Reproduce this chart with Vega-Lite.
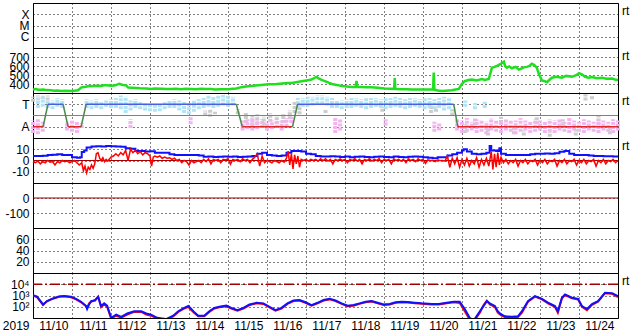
{
"$schema":"https://vega.github.io/schema/vega-lite/v6.json",
"background":"white",
"padding":{"left":0,"top":2,"right":0,"bottom":0},
"spacing":0,
"bounds":"flush",
"config":{
 "view":{"stroke":"black","strokeWidth":1},
 "font":"Liberation Sans",
 "axis":{"labelFont":"Liberation Sans","labelFontSize":12,"labelColor":"black","domain":false,"ticks":false,"tickSize":0,"grid":true,"gridColor":"black","gridDash":[1,3],"gridOpacity":1,"gridWidth":1,"labelBound":false,"labelFlush":false},
 "axisY":{"labelPadding":4,"minExtent":32,"maxExtent":32},
 "text":{"font":"Liberation Sans"}
},
"datasets":{
 "sw":[{"h":0,"v":340},{"h":1.9,"v":345},{"h":3,"v":336},{"h":4.9,"v":335},{"h":6.5,"v":338},{"h":8,"v":332},{"h":11.1,"v":330},{"h":12.9,"v":325},{"h":15,"v":328},{"h":17.3,"v":322},{"h":20,"v":324},{"h":23.4,"v":323},{"h":25.5,"v":326},{"h":27.7,"v":330},{"h":29.6,"v":360},{"h":31,"v":366},{"h":32.7,"v":370},{"h":33.9,"v":378},{"h":36,"v":375},{"h":38.8,"v":380},{"h":41.9,"v":378},{"h":43.5,"v":386},{"h":45,"v":385},{"h":48.1,"v":380},{"h":50,"v":384},{"h":51.2,"v":388},{"h":53,"v":403},{"h":54.3,"v":395},{"h":55.5,"v":390},{"h":57.3,"v":385},{"h":58.6,"v":360},{"h":61,"v":358},{"h":63.5,"v":355},{"h":66,"v":352},{"h":69.7,"v":350},{"h":72.7,"v":345},{"h":75,"v":350},{"h":78.9,"v":348},{"h":82,"v":344},{"h":85.1,"v":345},{"h":88,"v":347},{"h":91.2,"v":342},{"h":94,"v":346},{"h":97.4,"v":345},{"h":100,"v":341},{"h":103.6,"v":348},{"h":106,"v":344},{"h":109.7,"v":345},{"h":112,"v":340},{"h":115.9,"v":342},{"h":120.2,"v":341},{"h":123,"v":346},{"h":125.1,"v":350},{"h":128.2,"v":365},{"h":131,"v":372},{"h":134.4,"v":378},{"h":137,"v":384},{"h":140.5,"v":390},{"h":144.9,"v":396},{"h":147,"v":398},{"h":149.8,"v":400},{"h":152,"v":404},{"h":154.7,"v":407},{"h":157,"v":410},{"h":159.1,"v":412},{"h":162,"v":420},{"h":165.2,"v":430},{"h":168.3,"v":440},{"h":171.4,"v":450},{"h":173,"v":465},{"h":174.5,"v":478},{"h":176,"v":460},{"h":177.6,"v":445},{"h":180,"v":430},{"h":181.9,"v":415},{"h":184,"v":400},{"h":186.9,"v":390},{"h":189.9,"v":378},{"h":193,"v":372},{"h":196.1,"v":367},{"h":198.5,"v":366},{"h":199.1,"v":433},{"h":199.7,"v":366},{"h":202.2,"v":368},{"h":205,"v":364},{"h":208.4,"v":365},{"h":212,"v":358},{"h":216.4,"v":350},{"h":220,"v":347},{"h":222.2,"v":345},{"h":222.6,"v":466},{"h":223,"v":344},{"h":226.9,"v":342},{"h":230,"v":341},{"h":233,"v":340},{"h":236,"v":339},{"h":239.2,"v":340},{"h":243,"v":338},{"h":246.2,"v":338},{"h":246.6,"v":526},{"h":247,"v":336},{"h":249,"v":328},{"h":251.5,"v":322},{"h":254,"v":326},{"h":257.7,"v":330},{"h":260,"v":338},{"h":262,"v":345},{"h":263.9,"v":400},{"h":265.7,"v":433},{"h":268,"v":445},{"h":270.1,"v":450},{"h":273,"v":440},{"h":276.2,"v":455},{"h":278,"v":445},{"h":280.5,"v":455},{"h":282.4,"v":580},{"h":284,"v":590},{"h":285.4,"v":600},{"h":287.5,"v":620},{"h":289.8,"v":648},{"h":290.5,"v":600},{"h":291.6,"v":580},{"h":293,"v":595},{"h":294.7,"v":575},{"h":297,"v":590},{"h":299,"v":560},{"h":300.9,"v":575},{"h":302,"v":585},{"h":303.9,"v":590},{"h":305.5,"v":600},{"h":307,"v":625},{"h":308.5,"v":610},{"h":310.1,"v":580},{"h":311.3,"v":510},{"h":313.2,"v":440},{"h":315,"v":430},{"h":316.3,"v":420},{"h":318,"v":450},{"h":319.3,"v":470},{"h":322,"v":480},{"h":325.5,"v":470},{"h":328,"v":490},{"h":331.7,"v":480},{"h":334,"v":495},{"h":336,"v":520},{"h":338,"v":505},{"h":339.7,"v":480},{"h":342,"v":470},{"h":344,"v":478},{"h":347,"v":465},{"h":350.2,"v":470},{"h":353,"v":458},{"h":356.4,"v":462},{"h":358,"v":450},{"h":360,"v":445}],
 "phi":[{"h":0,"lo":290,"hi":330,"c":"gray"},{"h":3,"lo":300,"hi":340,"c":"gray"},{"h":6,"lo":310,"hi":345,"c":"gray"},{"h":9,"lo":300,"hi":340,"c":"gray"},{"h":106,"lo":180,"hi":220,"c":"gray"},{"h":109,"lo":170,"hi":230,"c":"gray"},{"h":112,"lo":190,"hi":210,"c":"gray"},{"h":126,"lo":190,"hi":230,"c":"gray"},{"h":131,"lo":120,"hi":200,"c":"gray"},{"h":135,"lo":100,"hi":180,"c":"gray"},{"h":138,"lo":110,"hi":190,"c":"gray"},{"h":142,"lo":100,"hi":170,"c":"gray"},{"h":146,"lo":130,"hi":200,"c":"gray"},{"h":150,"lo":110,"hi":180,"c":"gray"},{"h":154,"lo":120,"hi":190,"c":"gray"},{"h":158,"lo":150,"hi":220,"c":"gray"},{"h":161,"lo":200,"hi":290,"c":"gray"},{"h":164,"lo":190,"hi":260,"c":"gray"},{"h":180,"lo":200,"hi":230,"c":"gray"},{"h":215,"lo":210,"hi":250,"c":"gray"},{"h":245,"lo":200,"hi":260,"c":"gray"},{"h":248,"lo":210,"hi":250,"c":"gray"},{"h":258,"lo":180,"hi":230,"c":"gray"},{"h":266,"lo":40,"hi":110,"c":"gray"},{"h":272,"lo":100,"hi":160,"c":"gray"},{"h":280,"lo":20,"hi":80,"c":"gray"},{"h":288,"lo":120,"hi":170,"c":"gray"},{"h":296,"lo":30,"hi":90,"c":"gray"},{"h":302,"lo":20,"hi":60,"c":"gray"},{"h":310,"lo":110,"hi":170,"c":"gray"},{"h":318,"lo":10,"hi":50,"c":"gray"},{"h":326,"lo":100,"hi":150,"c":"gray"},{"h":334,"lo":20,"hi":70,"c":"gray"},{"h":340,"lo":300,"hi":350,"c":"gray"},{"h":344,"lo":310,"hi":340,"c":"gray"},{"h":348,"lo":100,"hi":180,"c":"gray"},{"h":355,"lo":30,"hi":90,"c":"gray"},
 {"h":0,"lo":40,"hi":140,"c":"pink"},{"h":3,"lo":30,"hi":150,"c":"pink"},{"h":6,"lo":50,"hi":130,"c":"pink"},{"h":21,"lo":60,"hi":130,"c":"pink"},{"h":24,"lo":50,"hi":140,"c":"pink"},{"h":27,"lo":40,"hi":130,"c":"pink"},{"h":30,"lo":80,"hi":120,"c":"pink"},{"h":60,"lo":80,"hi":150,"c":"pink"},{"h":97,"lo":110,"hi":170,"c":"pink"},{"h":129,"lo":60,"hi":140,"c":"pink"},{"h":132,"lo":70,"hi":150,"c":"pink"},{"h":135,"lo":60,"hi":160,"c":"pink"},{"h":138,"lo":70,"hi":140,"c":"pink"},{"h":141,"lo":80,"hi":150,"c":"pink"},{"h":144,"lo":60,"hi":130,"c":"pink"},{"h":147,"lo":70,"hi":140,"c":"pink"},{"h":150,"lo":80,"hi":150,"c":"pink"},{"h":153,"lo":60,"hi":140,"c":"pink"},{"h":156,"lo":90,"hi":160,"c":"pink"},{"h":159,"lo":120,"hi":170,"c":"pink"},{"h":186,"lo":40,"hi":160,"c":"pink"},{"h":189,"lo":60,"hi":150,"c":"pink"},{"h":217,"lo":100,"hi":150,"c":"pink"},{"h":247,"lo":50,"hi":130,"c":"pink"},{"h":250,"lo":60,"hi":120,"c":"pink"},{"h":261,"lo":60,"hi":150,"c":"pink"},{"h":264,"lo":40,"hi":140,"c":"pink"},{"h":267,"lo":50,"hi":160,"c":"pink"},{"h":270,"lo":60,"hi":130,"c":"pink"},{"h":273,"lo":40,"hi":150,"c":"pink"},{"h":276,"lo":50,"hi":140,"c":"pink"},{"h":279,"lo":30,"hi":130,"c":"pink"},{"h":282,"lo":60,"hi":160,"c":"pink"},{"h":285,"lo":50,"hi":140,"c":"pink"},{"h":288,"lo":40,"hi":130,"c":"pink"},{"h":291,"lo":60,"hi":150,"c":"pink"},{"h":294,"lo":50,"hi":140,"c":"pink"},{"h":297,"lo":30,"hi":140,"c":"pink"},{"h":300,"lo":50,"hi":160,"c":"pink"},{"h":303,"lo":60,"hi":140,"c":"pink"},{"h":306,"lo":40,"hi":130,"c":"pink"},{"h":309,"lo":50,"hi":150,"c":"pink"},{"h":312,"lo":60,"hi":140,"c":"pink"},{"h":315,"lo":40,"hi":130,"c":"pink"},{"h":318,"lo":50,"hi":150,"c":"pink"},{"h":321,"lo":40,"hi":140,"c":"pink"},{"h":324,"lo":60,"hi":150,"c":"pink"},{"h":327,"lo":50,"hi":130,"c":"pink"},{"h":330,"lo":40,"hi":160,"c":"pink"},{"h":333,"lo":60,"hi":140,"c":"pink"},{"h":336,"lo":50,"hi":130,"c":"pink"},{"h":339,"lo":40,"hi":150,"c":"pink"},{"h":342,"lo":60,"hi":140,"c":"pink"},{"h":345,"lo":50,"hi":130,"c":"pink"},{"h":348,"lo":40,"hi":150,"c":"pink"},{"h":351,"lo":60,"hi":140,"c":"pink"},{"h":354,"lo":50,"hi":130,"c":"pink"},{"h":357,"lo":40,"hi":150,"c":"pink"},{"h":360,"lo":60,"hi":140,"c":"pink"},
 {"h":3,"lo":240,"hi":320,"c":"blue"},{"h":6,"lo":250,"hi":330,"c":"blue"},{"h":9,"lo":240,"hi":310,"c":"blue"},{"h":12,"lo":230,"hi":300,"c":"blue"},{"h":15,"lo":250,"hi":320,"c":"blue"},{"h":18,"lo":240,"hi":310,"c":"blue"},{"h":33,"lo":240,"hi":310,"c":"blue"},{"h":36,"lo":230,"hi":300,"c":"blue"},{"h":39,"lo":240,"hi":310,"c":"blue"},{"h":42,"lo":230,"hi":290,"c":"blue"},{"h":45,"lo":250,"hi":300,"c":"blue"},{"h":48,"lo":240,"hi":310,"c":"blue"},{"h":51,"lo":240,"hi":320,"c":"blue"},{"h":54,"lo":230,"hi":340,"c":"blue"},{"h":57,"lo":200,"hi":330,"c":"blue"},{"h":60,"lo":220,"hi":300,"c":"blue"},{"h":63,"lo":240,"hi":310,"c":"blue"},{"h":66,"lo":230,"hi":290,"c":"blue"},{"h":69,"lo":220,"hi":280,"c":"blue"},{"h":72,"lo":215,"hi":270,"c":"blue"},{"h":75,"lo":210,"hi":265,"c":"blue"},{"h":78,"lo":215,"hi":270,"c":"blue"},{"h":81,"lo":230,"hi":290,"c":"blue"},{"h":84,"lo":240,"hi":300,"c":"blue"},{"h":87,"lo":240,"hi":310,"c":"blue"},{"h":90,"lo":220,"hi":300,"c":"blue"},{"h":93,"lo":200,"hi":290,"c":"blue"},{"h":96,"lo":190,"hi":280,"c":"blue"},{"h":99,"lo":210,"hi":300,"c":"blue"},{"h":102,"lo":230,"hi":310,"c":"blue"},{"h":105,"lo":240,"hi":320,"c":"blue"},{"h":108,"lo":250,"hi":340,"c":"blue"},{"h":111,"lo":240,"hi":330,"c":"blue"},{"h":114,"lo":250,"hi":340,"c":"blue"},{"h":117,"lo":260,"hi":345,"c":"blue"},{"h":120,"lo":250,"hi":340,"c":"blue"},{"h":123,"lo":260,"hi":330,"c":"blue"},{"h":163,"lo":240,"hi":320,"c":"blue"},{"h":166,"lo":250,"hi":320,"c":"blue"},{"h":169,"lo":250,"hi":330,"c":"blue"},{"h":172,"lo":260,"hi":330,"c":"blue"},{"h":175,"lo":270,"hi":340,"c":"blue"},{"h":178,"lo":270,"hi":340,"c":"blue"},{"h":181,"lo":260,"hi":330,"c":"blue"},{"h":184,"lo":240,"hi":320,"c":"blue"},{"h":187,"lo":240,"hi":300,"c":"blue"},{"h":190,"lo":230,"hi":300,"c":"blue"},{"h":193,"lo":240,"hi":310,"c":"blue"},{"h":196,"lo":240,"hi":320,"c":"blue"},{"h":199,"lo":250,"hi":320,"c":"blue"},{"h":202,"lo":240,"hi":310,"c":"blue"},{"h":205,"lo":230,"hi":320,"c":"blue"},{"h":208,"lo":240,"hi":320,"c":"blue"},{"h":211,"lo":250,"hi":320,"c":"blue"},{"h":214,"lo":240,"hi":310,"c":"blue"},{"h":217,"lo":230,"hi":320,"c":"blue"},{"h":220,"lo":240,"hi":320,"c":"blue"},{"h":223,"lo":250,"hi":330,"c":"blue"},{"h":226,"lo":240,"hi":320,"c":"blue"},{"h":229,"lo":230,"hi":310,"c":"blue"},{"h":232,"lo":240,"hi":320,"c":"blue"},{"h":235,"lo":250,"hi":320,"c":"blue"},{"h":238,"lo":240,"hi":310,"c":"blue"},{"h":241,"lo":230,"hi":320,"c":"blue"},{"h":244,"lo":240,"hi":320,"c":"blue"},{"h":247,"lo":230,"hi":310,"c":"blue"},{"h":250,"lo":240,"hi":320,"c":"blue"},{"h":253,"lo":220,"hi":330,"c":"blue"},{"h":256,"lo":230,"hi":320,"c":"blue"},{"h":266,"lo":250,"hi":300,"c":"blue"},{"h":272,"lo":230,"hi":280,"c":"blue"},{"h":278,"lo":240,"hi":290,"c":"blue"}],
 "sector":[{"h0":0,"h1":6.2,"p0":90,"p1":90,"s":"A"},{"h0":6.2,"h1":9.2,"p0":90,"p1":270,"s":"X"},{"h0":9.2,"h1":18.5,"p0":270,"p1":270,"s":"T"},{"h0":18.5,"h1":21.6,"p0":270,"p1":90,"s":"X"},{"h0":21.6,"h1":29.6,"p0":90,"p1":90,"s":"A"},{"h0":29.6,"h1":32.7,"p0":90,"p1":270,"s":"X"},{"h0":32.7,"h1":125.1,"p0":270,"p1":270,"s":"T"},{"h0":125.1,"h1":128.8,"p0":270,"p1":90,"s":"X"},{"h0":128.8,"h1":159.7,"p0":90,"p1":90,"s":"A"},{"h0":159.7,"h1":162.8,"p0":90,"p1":270,"s":"X"},{"h0":162.8,"h1":258.9,"p0":270,"p1":270,"s":"T"},{"h0":258.9,"h1":261.4,"p0":270,"p1":90,"s":"X"},{"h0":261.4,"h1":360,"p0":90,"p1":90,"s":"A"}],
 "bt":[{"h":0,"bt":4},{"h":3,"bt":4},{"h":6,"bt":4.2},{"h":9,"bt":5},{"h":12,"bt":5.2},{"h":15,"bt":5.5},{"h":18,"bt":5},{"h":21,"bt":4.8},{"h":24,"bt":3},{"h":27,"bt":2.5},{"h":29,"bt":3},{"h":30,"bt":7.5},{"h":31.5,"bt":9},{"h":33,"bt":11.5},{"h":36,"bt":12.5},{"h":39,"bt":12.6},{"h":42,"bt":12.5},{"h":45,"bt":12.8},{"h":48,"bt":12.6},{"h":51,"bt":12.4},{"h":54,"bt":12.2},{"h":57,"bt":11},{"h":60,"bt":10.5},{"h":63,"bt":8.5},{"h":66,"bt":8.4},{"h":69,"bt":8},{"h":72,"bt":8.2},{"h":75,"bt":7},{"h":78,"bt":7},{"h":81,"bt":6.8},{"h":84,"bt":5.5},{"h":87,"bt":5},{"h":90,"bt":5},{"h":93,"bt":5},{"h":96,"bt":4.8},{"h":99,"bt":5},{"h":102,"bt":4.5},{"h":105,"bt":3.4},{"h":108,"bt":3.5},{"h":111,"bt":3.2},{"h":114,"bt":3.4},{"h":117,"bt":3.5},{"h":120,"bt":3.4},{"h":123,"bt":3.6},{"h":126,"bt":3.2},{"h":129,"bt":3.4},{"h":132,"bt":3.5},{"h":135,"bt":4},{"h":138,"bt":6},{"h":141,"bt":7},{"h":144,"bt":5},{"h":147,"bt":4.5},{"h":150,"bt":4},{"h":153,"bt":4.5},{"h":156,"bt":7},{"h":159,"bt":8.4},{"h":162,"bt":8.5},{"h":165,"bt":8},{"h":168,"bt":6},{"h":171,"bt":5.5},{"h":174,"bt":4},{"h":177,"bt":3.5},{"h":180,"bt":3.6},{"h":183,"bt":3.8},{"h":186,"bt":3.5},{"h":189,"bt":3.2},{"h":192,"bt":3.5},{"h":195,"bt":3},{"h":198,"bt":3.3},{"h":201,"bt":3.5},{"h":204,"bt":3.2},{"h":207,"bt":3},{"h":210,"bt":3.4},{"h":213,"bt":3.6},{"h":216,"bt":3.2},{"h":219,"bt":3},{"h":222,"bt":3.5},{"h":225,"bt":3.2},{"h":228,"bt":3},{"h":231,"bt":3.3},{"h":234,"bt":3.5},{"h":237,"bt":3.4},{"h":240,"bt":3},{"h":243,"bt":2.5},{"h":246,"bt":2},{"h":249,"bt":2.8},{"h":252,"bt":3},{"h":255,"bt":4.5},{"h":258,"bt":5.5},{"h":261,"bt":7},{"h":264,"bt":9},{"h":265,"bt":10},{"h":267,"bt":8},{"h":270,"bt":6},{"h":273,"bt":5.5},{"h":276,"bt":6},{"h":279,"bt":7},{"h":281,"bt":12.9},{"h":282,"bt":9},{"h":285,"bt":8.4},{"h":287,"bt":10.8},{"h":288,"bt":6},{"h":291,"bt":5},{"h":294,"bt":4.9},{"h":297,"bt":5},{"h":300,"bt":4.8},{"h":303,"bt":5},{"h":306,"bt":5.5},{"h":309,"bt":6},{"h":312,"bt":6},{"h":315,"bt":6.2},{"h":318,"bt":6},{"h":321,"bt":6.5},{"h":324,"bt":7.8},{"h":327,"bt":8.4},{"h":330,"bt":6},{"h":333,"bt":5},{"h":336,"bt":4.9},{"h":339,"bt":4.8},{"h":342,"bt":4.5},{"h":345,"bt":4},{"h":348,"bt":4},{"h":351,"bt":3.8},{"h":354,"bt":3.7},{"h":357,"bt":3.6},{"h":360,"bt":3.6}],
 "bz":[{"h":0,"bz":-1},{"h":1.5,"bz":-2},{"h":3,"bz":-0.5},{"h":4.5,"bz":-3},{"h":6,"bz":-1},{"h":7.5,"bz":-2},{"h":9,"bz":0},{"h":10.5,"bz":-1.5},{"h":12,"bz":-1},{"h":13.5,"bz":-4},{"h":15,"bz":-1},{"h":16.5,"bz":-2},{"h":18,"bz":0},{"h":19.5,"bz":-1},{"h":21,"bz":-0.5},{"h":22.5,"bz":-2},{"h":24,"bz":-1},{"h":25.5,"bz":0},{"h":27,"bz":-2},{"h":28.5,"bz":-4},{"h":30,"bz":-2},{"h":31,"bz":-9},{"h":32,"bz":-5},{"h":33,"bz":-11},{"h":34,"bz":-6},{"h":35,"bz":-8},{"h":36,"bz":-4},{"h":37,"bz":-7},{"h":38,"bz":-3},{"h":39,"bz":6},{"h":40,"bz":7},{"h":41,"bz":2},{"h":42,"bz":0},{"h":43,"bz":2.5},{"h":44,"bz":-1},{"h":45,"bz":1},{"h":46,"bz":-0.5},{"h":48,"bz":3},{"h":49.5,"bz":4},{"h":51,"bz":6},{"h":52.5,"bz":4},{"h":54,"bz":7},{"h":55.5,"bz":5},{"h":57,"bz":9},{"h":58.5,"bz":0},{"h":60,"bz":10},{"h":61.5,"bz":7},{"h":63,"bz":9},{"h":64.5,"bz":6},{"h":66,"bz":8},{"h":67.5,"bz":5},{"h":69,"bz":7},{"h":70.5,"bz":6},{"h":72,"bz":4},{"h":73,"bz":-5},{"h":74,"bz":3},{"h":75,"bz":4},{"h":76.5,"bz":3},{"h":78,"bz":4},{"h":79.5,"bz":2},{"h":81,"bz":3},{"h":82.5,"bz":2},{"h":84,"bz":2.5},{"h":85.5,"bz":1},{"h":87,"bz":2},{"h":88.5,"bz":0},{"h":90,"bz":1},{"h":91.5,"bz":-2},{"h":93,"bz":0},{"h":94.5,"bz":-1},{"h":96,"bz":-4},{"h":97.5,"bz":0},{"h":99,"bz":-2},{"h":100.5,"bz":-1},{"h":102,"bz":0},{"h":103.5,"bz":-2},{"h":105,"bz":1},{"h":106.5,"bz":-1},{"h":108,"bz":1.5},{"h":109.5,"bz":-3},{"h":111,"bz":1},{"h":112.5,"bz":0},{"h":114,"bz":1},{"h":115.5,"bz":-2},{"h":117,"bz":1},{"h":118.5,"bz":0.5},{"h":120,"bz":1.5},{"h":121.5,"bz":-3.4},{"h":123,"bz":1},{"h":124.5,"bz":0},{"h":126,"bz":1},{"h":127.5,"bz":-1},{"h":129,"bz":1.5},{"h":130.5,"bz":0},{"h":132,"bz":1},{"h":133.5,"bz":-2},{"h":135,"bz":1},{"h":136.5,"bz":3},{"h":138,"bz":6},{"h":139.5,"bz":-5},{"h":141,"bz":4},{"h":142.5,"bz":-2},{"h":144,"bz":0},{"h":145.5,"bz":-1},{"h":147,"bz":-2},{"h":148.5,"bz":0},{"h":150,"bz":-1},{"h":151.5,"bz":-2},{"h":153,"bz":0},{"h":154.5,"bz":-1.5},{"h":156,"bz":2},{"h":157,"bz":8.4},{"h":158,"bz":-4},{"h":159,"bz":6},{"h":160,"bz":-7.5},{"h":161,"bz":5},{"h":162,"bz":-3},{"h":163,"bz":4},{"h":164,"bz":-6},{"h":165,"bz":1},{"h":166.5,"bz":0},{"h":168,"bz":1},{"h":169.5,"bz":-0.5},{"h":171,"bz":1},{"h":172.5,"bz":0},{"h":174,"bz":1},{"h":175.5,"bz":-0.5},{"h":177,"bz":1.5},{"h":178.5,"bz":0},{"h":180,"bz":1.6},{"h":181.5,"bz":-0.5},{"h":183,"bz":1},{"h":184.5,"bz":-3},{"h":186,"bz":1},{"h":187.5,"bz":0},{"h":189,"bz":1.5},{"h":190.5,"bz":0},{"h":192,"bz":1},{"h":193.5,"bz":-2},{"h":195,"bz":1},{"h":196.5,"bz":0},{"h":198,"bz":1.5},{"h":199.5,"bz":-0.5},{"h":201,"bz":1},{"h":202.5,"bz":-3},{"h":204,"bz":1},{"h":205.5,"bz":0},{"h":207,"bz":1.5},{"h":208.5,"bz":-0.5},{"h":210,"bz":1},{"h":211.5,"bz":0},{"h":213,"bz":1.6},{"h":214.5,"bz":-2},{"h":216,"bz":1},{"h":217.5,"bz":0},{"h":219,"bz":1},{"h":220.5,"bz":-3},{"h":222,"bz":1.5},{"h":223.5,"bz":0},{"h":225,"bz":1},{"h":226.5,"bz":-0.5},{"h":228,"bz":1},{"h":229.5,"bz":-2},{"h":231,"bz":1.5},{"h":232.5,"bz":0},{"h":234,"bz":1},{"h":235.5,"bz":-1},{"h":237,"bz":1.5},{"h":238.5,"bz":0},{"h":240,"bz":1},{"h":241.5,"bz":-2.5},{"h":243,"bz":0.5},{"h":244.5,"bz":0},{"h":246,"bz":0},{"h":247.5,"bz":-1},{"h":249,"bz":0.5},{"h":250.5,"bz":0},{"h":252,"bz":0},{"h":253.5,"bz":-0.5},{"h":255,"bz":4},{"h":256.5,"bz":-6},{"h":258,"bz":2},{"h":259.5,"bz":-3},{"h":261,"bz":2.5},{"h":262.5,"bz":-6},{"h":264,"bz":1},{"h":265.5,"bz":-4},{"h":267,"bz":2},{"h":268.5,"bz":-5},{"h":270,"bz":0},{"h":271.5,"bz":-3},{"h":273,"bz":2.5},{"h":274.5,"bz":-6},{"h":276,"bz":1},{"h":277.5,"bz":-4},{"h":279,"bz":2},{"h":280.5,"bz":-5},{"h":282,"bz":8},{"h":283,"bz":-8},{"h":284,"bz":6},{"h":285,"bz":-6},{"h":286,"bz":7},{"h":287,"bz":-4},{"h":288,"bz":3},{"h":289.5,"bz":-2},{"h":291,"bz":1},{"h":292.5,"bz":-3},{"h":294,"bz":0},{"h":295.5,"bz":-2},{"h":297,"bz":1},{"h":298.5,"bz":-5},{"h":300,"bz":0},{"h":301.5,"bz":-2},{"h":303,"bz":1},{"h":304.5,"bz":-3},{"h":306,"bz":0},{"h":307.5,"bz":-1},{"h":309,"bz":1},{"h":310.5,"bz":-4},{"h":312,"bz":0},{"h":313.5,"bz":-2},{"h":315,"bz":1},{"h":316.5,"bz":-3},{"h":318,"bz":0},{"h":319.5,"bz":-1},{"h":321,"bz":1},{"h":322.5,"bz":-5},{"h":324,"bz":0},{"h":325.5,"bz":-2},{"h":327,"bz":1},{"h":328.5,"bz":-3},{"h":330,"bz":0},{"h":331.5,"bz":-1},{"h":333,"bz":1},{"h":334.5,"bz":-4},{"h":336,"bz":0},{"h":337.5,"bz":-2},{"h":339,"bz":1},{"h":340.5,"bz":-3},{"h":342,"bz":0},{"h":343.5,"bz":-1},{"h":345,"bz":1},{"h":346.5,"bz":-5},{"h":348,"bz":0},{"h":349.5,"bz":-2},{"h":351,"bz":1},{"h":352.5,"bz":-3},{"h":354,"bz":0},{"h":355.5,"bz":-1},{"h":357,"bz":1},{"h":358.5,"bz":-2},{"h":360,"bz":0}],
 "ef":[{"h":0,"b":1050,"r":1000},{"h":2.5,"b":790,"r":700},{"h":6.2,"b":160,"r":140},{"h":8.6,"b":320,"r":300},{"h":12.3,"b":560,"r":520},{"h":16,"b":800,"r":760},{"h":19.1,"b":890,"r":850},{"h":23.4,"b":790,"r":700},{"h":26.5,"b":500,"r":450},{"h":29.6,"b":280,"r":250},{"h":32.7,"b":117,"r":110},{"h":33.3,"b":63,"r":80},{"h":34.5,"b":158,"r":200},{"h":35.8,"b":316,"r":280},{"h":38.2,"b":355,"r":400},{"h":40.1,"b":740,"r":800},{"h":41.9,"b":117,"r":90},{"h":43.8,"b":200,"r":160},{"h":45.6,"b":126,"r":100},{"h":48.1,"b":10.5,"r":9},{"h":51.2,"b":20,"r":16},{"h":54.3,"b":12.6,"r":11},{"h":58,"b":25,"r":20},{"h":62.3,"b":40,"r":35},{"h":66.6,"b":40,"r":35},{"h":69.7,"b":25,"r":20},{"h":72.7,"b":20,"r":16},{"h":76.4,"b":10.5,"r":9},{"h":82,"b":8,"r":7},{"h":86.3,"b":16,"r":14},{"h":89.4,"b":40,"r":35},{"h":93.1,"b":79,"r":70},{"h":95.6,"b":117,"r":100},{"h":97.4,"b":63,"r":50},{"h":99.3,"b":32,"r":28},{"h":101.7,"b":16,"r":14},{"h":105.4,"b":16,"r":14},{"h":108.5,"b":40,"r":35},{"h":111.6,"b":79,"r":70},{"h":114.7,"b":100,"r":90},{"h":119,"b":126,"r":110},{"h":122,"b":79,"r":70},{"h":125.8,"b":50,"r":45},{"h":129.5,"b":79,"r":70},{"h":133.2,"b":158,"r":140},{"h":137.5,"b":224,"r":200},{"h":141.8,"b":200,"r":180},{"h":145.5,"b":100,"r":90},{"h":149.2,"b":50,"r":45},{"h":152.9,"b":79,"r":70},{"h":156.6,"b":200,"r":180},{"h":160.3,"b":355,"r":320},{"h":164,"b":398,"r":360},{"h":167.7,"b":251,"r":220},{"h":171.4,"b":141,"r":125},{"h":175.1,"b":224,"r":200},{"h":178.8,"b":398,"r":360},{"h":182.5,"b":501,"r":450},{"h":186.2,"b":355,"r":320},{"h":189.9,"b":200,"r":180},{"h":193.6,"b":126,"r":110},{"h":197.3,"b":141,"r":125},{"h":201,"b":200,"r":180},{"h":204.7,"b":282,"r":250},{"h":208.4,"b":316,"r":290},{"h":212.1,"b":224,"r":200},{"h":215.8,"b":158,"r":140},{"h":219.5,"b":178,"r":160},{"h":223.2,"b":251,"r":225},{"h":226.9,"b":282,"r":250},{"h":230.6,"b":263,"r":240},{"h":234.9,"b":229,"r":205},{"h":239.2,"b":200,"r":180},{"h":245.4,"b":174,"r":155},{"h":249.7,"b":174,"r":160},{"h":254.6,"b":224,"r":200},{"h":258.9,"b":282,"r":250},{"h":262.6,"b":282,"r":220},{"h":265.7,"b":63,"r":40},{"h":268.8,"b":10,"r":7},{"h":271.3,"b":6.3,"r":5},{"h":275,"b":40,"r":30},{"h":277.4,"b":126,"r":150},{"h":279.3,"b":316,"r":350},{"h":281.1,"b":200,"r":160},{"h":284.2,"b":117,"r":100},{"h":286,"b":40,"r":30},{"h":287.9,"b":22,"r":18},{"h":290.4,"b":14,"r":12},{"h":294.7,"b":12.6,"r":11},{"h":298.4,"b":14,"r":12},{"h":300.9,"b":40,"r":30},{"h":304.6,"b":316,"r":280},{"h":308.9,"b":891,"r":800},{"h":313.2,"b":501,"r":450},{"h":316.9,"b":229,"r":200},{"h":321.2,"b":117,"r":100},{"h":323,"b":40,"r":30},{"h":325.5,"b":631,"r":560},{"h":327.4,"b":1259,"r":1100},{"h":331.7,"b":631,"r":560},{"h":335.4,"b":501,"r":450},{"h":337.8,"b":117,"r":100},{"h":340.9,"b":63,"r":50},{"h":344,"b":174,"r":150},{"h":347.7,"b":316,"r":280},{"h":352,"b":1778,"r":1600},{"h":356.4,"b":1600,"r":1400},{"h":360,"b":891,"r":700}]
},
"vconcat":[
 {"width":585,"height":45,
  "data":{"values":[{"tag":"rt"}]},
  "mark":{"type":"text","align":"left","baseline":"alphabetic","dx":4,"dy":11.5,"fontSize":12,"color":"black"},
  "encoding":{
   "x":{"datum":360,"type":"quantitative","scale":{"domain":[0,360],"nice":false,"zero":false},"axis":{"values":[0,24,48,72,96,120,144,168,192,216,240,264,288,312,336,360],"labels":false,"title":null,"labelOverlap":false,"labelSeparation":-60}},
   "y":{"datum":0.001,"type":"quantitative","scale":{"type":"log","domain":[1e-7,1e-3],"nice":false},"axis":{"values":[1e-6,1e-5,1e-4],"labelExpr":"datum.value > 5e-5 ? 'X' : (datum.value > 5e-6 ? 'M' : 'C')","title":null,"labelOverlap":false,"labelSeparation":-60}},
   "text":{"field":"tag"}}},
 {"width":585,"height":45,
  "layer":[
   {"data":{"name":"sw"},"mark":{"type":"line","color":"#1ee01e","strokeWidth":2.5},
    "encoding":{
     "x":{"field":"h","type":"quantitative","scale":{"domain":[0,360],"nice":false,"zero":false},"axis":{"values":[0,24,48,72,96,120,144,168,192,216,240,264,288,312,336,360],"labels":false,"title":null,"labelOverlap":false,"labelSeparation":-60}},
     "y":{"field":"v","type":"quantitative","scale":{"domain":[300,800],"nice":false,"zero":false},"axis":{"values":[400,500,600,700],"title":null,"labelOverlap":false,"labelSeparation":-60}}}},
   {"data":{"values":[{"tag":"rt"}]},"mark":{"type":"text","align":"left","baseline":"alphabetic","dx":4,"dy":11.5,"fontSize":12,"color":"black"},
    "encoding":{
     "x":{"datum":360,"type":"quantitative","axis":{"values":[0,24,48,72,96,120,144,168,192,216,240,264,288,312,336,360],"labels":false,"title":null,"labelOverlap":false,"labelSeparation":-60}},
     "y":{"datum":800,"type":"quantitative","axis":{"values":[400,500,600,700],"title":null,"labelOverlap":false,"labelSeparation":-60}},
     "text":{"field":"tag"}}}
  ]},
 {"width":585,"height":45,
  "resolve":{"scale":{"color":"independent"}},
  "layer":[
   {"data":{"name":"phi"},"mark":{"type":"rule","strokeWidth":4,"strokeDash":[3,1]},
    "encoding":{
     "x":{"field":"h","type":"quantitative","scale":{"domain":[0,360],"nice":false,"zero":false},"axis":{"values":[0,24,48,72,96,120,144,168,192,216,240,264,288,312,336,360],"labels":false,"title":null,"labelOverlap":false,"labelSeparation":-60}},
     "y":{"field":"lo","type":"quantitative","scale":{"domain":[0,360],"nice":false,"zero":false},"axis":{"values":[90,270],"labelExpr":"datum.value > 180 ? 'T' : 'A'","title":null,"labelOverlap":false,"labelSeparation":-60}},
     "y2":{"field":"hi"},
     "color":{"field":"c","type":"nominal","scale":{"domain":["gray","pink","blue"],"range":["#cccccc","#f4b4f0","#b0e4f6"]},"legend":null}}},
   {"data":{"values":[{"level":180}]},"mark":{"type":"rule","color":"#808080","strokeWidth":1},
    "encoding":{"y":{"field":"level","type":"quantitative","axis":{"values":[90,270],"labelExpr":"datum.value > 180 ? 'T' : 'A'","title":null,"labelOverlap":false,"labelSeparation":-60}}}},
   {"data":{"name":"sector"},"mark":{"type":"rule","strokeWidth":1.5},
    "encoding":{
     "x":{"field":"h0","type":"quantitative","axis":{"values":[0,24,48,72,96,120,144,168,192,216,240,264,288,312,336,360],"labels":false,"title":null,"labelOverlap":false,"labelSeparation":-60}},"x2":{"field":"h1"},
     "y":{"field":"p0","type":"quantitative","axis":{"values":[90,270],"labelExpr":"datum.value > 180 ? 'T' : 'A'","title":null,"labelOverlap":false,"labelSeparation":-60}},"y2":{"field":"p1"},
     "color":{"field":"s","type":"nominal","scale":{"domain":["T","A","X"],"range":["#4a5ee0","#e02828","#4a8a4a"]},"legend":null}}},
   {"data":{"values":[{"tag":"rt"}]},"mark":{"type":"text","align":"left","baseline":"alphabetic","dx":4,"dy":11.5,"fontSize":12,"color":"black"},
    "encoding":{
     "x":{"datum":360,"type":"quantitative","axis":{"values":[0,24,48,72,96,120,144,168,192,216,240,264,288,312,336,360],"labels":false,"title":null,"labelOverlap":false,"labelSeparation":-60}},
     "y":{"datum":360,"type":"quantitative","axis":{"values":[90,270],"labelExpr":"datum.value > 180 ? 'T' : 'A'","title":null,"labelOverlap":false,"labelSeparation":-60}},
     "text":{"field":"tag"}}}
  ]},
 {"width":585,"height":45,
  "layer":[
   {"data":{"values":[{"level":0}]},"mark":{"type":"rule","color":"#a00000","strokeWidth":1},
    "encoding":{"y":{"field":"level","type":"quantitative","scale":{"domain":[-20,20],"nice":false,"zero":false},"axis":{"values":[-10,0,10],"labelExpr":"'' + datum.value","title":null,"labelOverlap":false,"labelSeparation":-60}}}},
   {"data":{"name":"bt"},"mark":{"type":"line","color":"#1010ff","strokeWidth":2,"interpolate":"step-after"},
    "encoding":{
     "x":{"field":"h","type":"quantitative","scale":{"domain":[0,360],"nice":false,"zero":false},"axis":{"values":[0,24,48,72,96,120,144,168,192,216,240,264,288,312,336,360],"labels":false,"title":null,"labelOverlap":false,"labelSeparation":-60}},
     "y":{"field":"bt","type":"quantitative","axis":{"values":[-10,0,10],"labelExpr":"'' + datum.value","title":null,"labelOverlap":false,"labelSeparation":-60}}}},
   {"data":{"name":"bz"},"mark":{"type":"line","color":"#ff0000","strokeWidth":1.5},
    "encoding":{
     "x":{"field":"h","type":"quantitative","axis":{"values":[0,24,48,72,96,120,144,168,192,216,240,264,288,312,336,360],"labels":false,"title":null,"labelOverlap":false,"labelSeparation":-60}},
     "y":{"field":"bz","type":"quantitative","axis":{"values":[-10,0,10],"labelExpr":"'' + datum.value","title":null,"labelOverlap":false,"labelSeparation":-60}}}},
   {"data":{"values":[{"tag":"rt"}]},"mark":{"type":"text","align":"left","baseline":"alphabetic","dx":4,"dy":11.5,"fontSize":12,"color":"black"},
    "encoding":{
     "x":{"datum":360,"type":"quantitative","axis":{"values":[0,24,48,72,96,120,144,168,192,216,240,264,288,312,336,360],"labels":false,"title":null,"labelOverlap":false,"labelSeparation":-60}},
     "y":{"datum":20,"type":"quantitative","axis":{"values":[-10,0,10],"labelExpr":"'' + datum.value","title":null,"labelOverlap":false,"labelSeparation":-60}},
     "text":{"field":"tag"}}}
  ]},
 {"width":585,"height":45,
  "layer":[
   {"data":{"values":[]},"mark":{"type":"line","color":"#000000"},
    "encoding":{
     "x":{"field":"h","type":"quantitative","scale":{"domain":[0,360],"nice":false,"zero":false},"axis":{"values":[0,24,48,72,96,120,144,168,192,216,240,264,288,312,336,360],"labels":false,"title":null,"labelOverlap":false,"labelSeparation":-60}},
     "y":{"field":"dst","type":"quantitative","scale":{"domain":[-200,100],"nice":false,"zero":false},"axis":{"values":[-100,0],"labelExpr":"'' + datum.value","title":null,"labelOverlap":false,"labelSeparation":-60}}}},
   {"data":{"values":[{"level":0}]},"mark":{"type":"rule","color":"#a00000","strokeWidth":1},
    "encoding":{"y":{"field":"level","type":"quantitative","axis":{"values":[-100,0],"labelExpr":"'' + datum.value","title":null,"labelOverlap":false,"labelSeparation":-60}}}}
  ]},
 {"width":585,"height":45,
  "data":{"values":[]},
  "mark":{"type":"line","color":"#000000"},
  "encoding":{
   "x":{"field":"h","type":"quantitative","scale":{"domain":[0,360],"nice":false,"zero":false},"axis":{"values":[0,24,48,72,96,120,144,168,192,216,240,264,288,312,336,360],"labels":false,"title":null,"labelOverlap":false,"labelSeparation":-60}},
   "y":{"field":"kp","type":"quantitative","scale":{"domain":[0,80],"nice":false,"zero":false},"axis":{"values":[20,40,60],"title":null,"labelOverlap":false,"labelSeparation":-60}}}},
 {"width":585,"height":45,
  "layer":[
   {"data":{"values":[{"level":10000}]},"mark":{"type":"rule","color":"#a00000","strokeWidth":1.5,"strokeDash":[10,3,2,3]},
    "encoding":{"y":{"field":"level","type":"quantitative","scale":{"type":"log","domain":[10,100000],"nice":false},"axis":{"values":[100,1000,10000],"labelExpr":"datum.value >= 5000 ? '10⁴' : (datum.value >= 500 ? '10³' : '10²')","title":null,"labelOverlap":false,"labelSeparation":-60}}}},
   {"data":{"name":"ef"},"mark":{"type":"line","color":"#ff0000","strokeWidth":2,"clip":true},
    "encoding":{
     "x":{"field":"h","type":"quantitative","scale":{"domain":[0,360],"nice":false,"zero":false},"axis":{"values":[0,24,48,72,96,120,144,168,192,216,240,264,288,312,336,360],"labelExpr":"datum.value == 0 ? '2019' : '11/' + (9 + datum.value / 24)","labelAlign":"right","labelOffset":-4,"labelPadding":2,"title":null,"labelOverlap":false,"labelSeparation":-60}},
     "y":{"field":"r","type":"quantitative","axis":{"values":[100,1000,10000],"labelExpr":"datum.value >= 5000 ? '10⁴' : (datum.value >= 500 ? '10³' : '10²')","title":null,"labelOverlap":false,"labelSeparation":-60}}}},
   {"data":{"name":"ef"},"mark":{"type":"line","color":"#1010ff","strokeWidth":2,"clip":true},
    "encoding":{
     "x":{"field":"h","type":"quantitative","axis":{"values":[0,24,48,72,96,120,144,168,192,216,240,264,288,312,336,360],"labelExpr":"datum.value == 0 ? '2019' : '11/' + (9 + datum.value / 24)","labelAlign":"right","labelOffset":-4,"labelPadding":2,"title":null,"labelOverlap":false,"labelSeparation":-60}},
     "y":{"field":"b","type":"quantitative","axis":{"values":[100,1000,10000],"labelExpr":"datum.value >= 5000 ? '10⁴' : (datum.value >= 500 ? '10³' : '10²')","title":null,"labelOverlap":false,"labelSeparation":-60}}}},
   {"data":{"values":[{"tag":"rt"}]},"mark":{"type":"text","align":"left","baseline":"alphabetic","dx":4,"dy":11.5,"fontSize":12,"color":"black"},
    "encoding":{
     "x":{"datum":360,"type":"quantitative","axis":{"values":[0,24,48,72,96,120,144,168,192,216,240,264,288,312,336,360],"labelExpr":"datum.value == 0 ? '2019' : '11/' + (9 + datum.value / 24)","labelAlign":"right","labelOffset":-4,"labelPadding":2,"title":null,"labelOverlap":false,"labelSeparation":-60}},
     "y":{"datum":100000,"type":"quantitative","axis":{"values":[100,1000,10000],"labelExpr":"datum.value >= 5000 ? '10⁴' : (datum.value >= 500 ? '10³' : '10²')","title":null,"labelOverlap":false,"labelSeparation":-60}},
     "text":{"field":"tag"}}}
  ]}
]
}
